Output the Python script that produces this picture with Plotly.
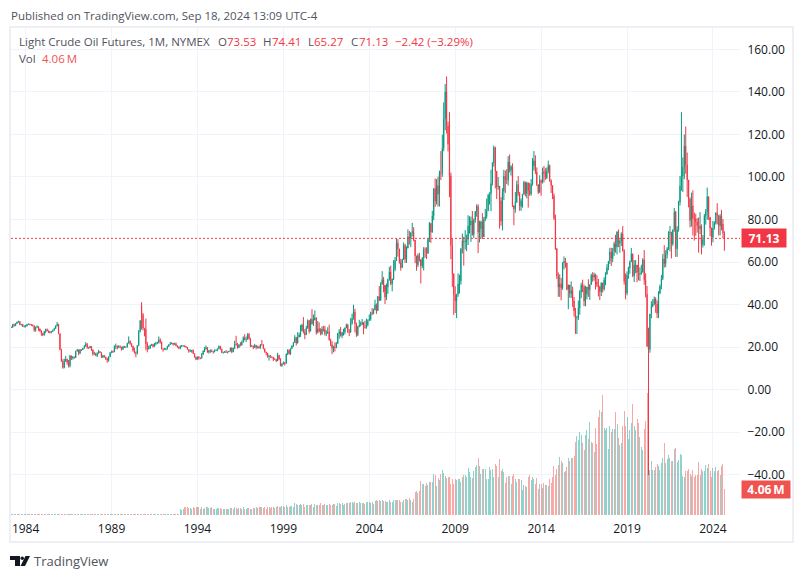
import plotly.graph_objects as go

# monthly bars, Mar 1983 to Sep 2024, one row per year
open_ = [
    29.3, 29.3, 30.6, 30.0, 31.0, 31.7, 32.0, 30.5, 30.6, 29.6,
    29.7, 29.9, 30.6, 30.8, 30.6, 30.4, 30.0, 27.9, 29.3, 29.6, 28.6, 27.6,
    26.4, 25.6, 27.3, 28.3, 27.6, 27.3, 26.8, 27.3, 27.9, 28.7, 30.0, 30.7,
    26.3, 18.8, 13.3, 10.4, 13.3, 14.3, 12.8, 11.2, 15.9, 14.8, 15.3, 15.0,
    18.0, 18.7, 17.0, 18.8, 18.7, 19.4, 20.3, 21.3, 19.7, 19.6, 20.3, 18.7,
    16.7, 16.9, 16.0, 17.0, 17.9, 17.4, 15.2, 16.0, 15.2, 14.5, 13.9, 15.4,
    17.4, 17.9, 17.7, 20.3, 20.4, 19.8, 20.3, 19.9, 18.9, 20.2, 19.9, 20.0,
    21.8, 22.7, 21.6, 20.4, 18.4, 17.4, 17.1, 20.7, 27.3, 39.5, 35.2, 28.9,
    28.4, 21.5, 19.2, 19.6, 20.8, 21.2, 20.2, 21.4, 21.7, 22.2, 23.4, 22.4,
    19.1, 18.9, 19.0, 19.2, 20.3, 21.1, 21.6, 21.9, 21.3, 21.6, 20.6, 19.9,
    19.5, 20.3, 20.5, 20.5, 20.3, 20.0, 18.9, 17.9, 18.0, 18.5, 16.9, 15.3,
    14.2, 15.2, 14.8, 14.7, 16.4, 18.2, 19.1, 19.7, 17.6, 18.4, 17.9, 18.1,
    17.8, 18.4, 18.5, 19.2, 20.4, 18.9, 17.4, 17.6, 17.8, 17.5, 17.6, 18.0,
    19.6, 17.7, 19.5, 21.5, 21.2, 19.8, 20.9, 20.8, 22.3, 24.4, 23.4, 23.6,
    25.9, 24.1, 20.3, 20.4, 19.7, 20.9, 19.8, 20.2, 19.6, 21.2, 21.1, 19.2,
    17.6, 17.2, 15.4, 15.6, 15.4, 15.2, 14.2, 14.2, 13.4, 16.1, 14.4, 11.2,
    12.1, 12.7, 12.3, 16.8, 18.7, 16.8, 19.3, 20.5, 22.1, 24.5, 21.8, 24.6,
    25.6, 27.6, 30.4, 26.9, 25.7, 29.0, 32.5, 27.4, 33.1, 30.8, 32.7, 33.8,
    26.8, 28.7, 27.4, 26.3, 28.5, 28.4, 26.3, 26.4, 27.2, 23.4, 21.2, 19.4,
    19.8, 19.5, 21.7, 26.3, 27.3, 25.3, 26.9, 27.0, 29.0, 30.5, 27.2, 26.9,
    31.2, 33.5, 36.6, 31.0, 25.8, 29.6, 30.2, 30.5, 31.6, 29.2, 29.1, 30.4,
    32.5, 33.1, 36.2, 35.8, 37.4, 39.9, 37.1, 43.8, 42.1, 49.6, 51.8, 49.1,
    43.5, 48.2, 51.8, 55.4, 49.7, 52.0, 56.5, 60.6, 68.9, 66.2, 59.8, 57.3,
    61.0, 67.9, 61.4, 66.6, 71.9, 71.3, 73.9, 74.4, 70.3, 62.9, 58.7, 63.1,
    61.1, 58.1, 61.8, 65.9, 65.8, 64.0, 70.7, 78.2, 74.0, 81.7, 94.5, 88.7,
    96.0, 91.8, 101.8, 101.6, 113.5, 127.4, 140.0, 124.1, 115.5, 100.6, 67.8, 54.4,
    44.6, 41.7, 44.8, 49.7, 51.1, 66.3, 69.9, 69.5, 70.0, 70.6, 77.0, 77.3,
    79.4, 72.9, 79.7, 83.8, 86.2, 74.0, 75.6, 79.0, 71.9, 80.0, 81.4, 84.1,
    91.4, 92.2, 97.0, 106.7, 113.9, 102.7, 95.4, 95.7, 88.8, 79.2, 93.2, 100.4,
    98.8, 98.5, 107.1, 103.0, 104.9, 86.5, 85.0, 88.1, 96.5, 92.2, 86.2, 88.9,
    91.8, 97.5, 92.1, 97.2, 93.5, 92.0, 96.6, 105.0, 107.7, 102.3, 96.4, 92.7,
    98.4, 97.5, 102.6, 101.6, 99.7, 102.7, 105.4, 98.2, 96.0, 91.2, 80.5, 66.2,
    53.3, 48.2, 49.8, 47.6, 59.6, 60.3, 59.5, 47.1, 49.2, 45.1, 46.6, 41.7,
    37.0, 33.6, 33.8, 38.3, 45.9, 49.1, 48.3, 41.6, 44.7, 48.2, 46.9, 49.4,
    53.7, 52.8, 54.0, 50.6, 49.3, 48.3, 46.0, 50.2, 47.2, 51.7, 54.4, 57.4,
    60.4, 64.7, 61.6, 64.9, 68.6, 67.0, 74.1, 68.8, 69.8, 73.3, 65.3, 50.9,
    45.4, 53.8, 57.2, 60.1, 63.9, 53.5, 58.5, 58.6, 55.1, 54.1, 54.2, 55.2,
    61.1, 51.6, 44.8, 20.5, 18.8, 35.5, 39.3, 40.3, 42.6, 40.2, 35.8, 45.3,
    48.5, 52.2, 61.5, 59.2, 63.6, 66.3, 73.5, 74.0, 68.5, 75.0, 83.6, 66.2,
    75.2, 88.2, 95.7, 100.3, 104.7, 114.7, 105.8, 98.6, 89.6, 79.5, 86.5, 80.6,
    80.3, 78.9, 77.1, 75.7, 76.8, 68.1, 70.6, 81.8, 83.6, 90.8, 81.0, 76.0,
    71.65, 75.85, 78.26, 83.17, 81.93, 76.99, 81.54, 77.91, 73.53,
]
high = [
    29.6, 30.9, 31.0, 31.2, 32.0, 32.4, 32.2, 30.9, 30.9, 30.3,
    30.4, 30.9, 31.1, 31.0, 30.8, 30.6, 30.1, 29.6, 30.1, 29.8, 28.7, 27.9,
    26.7, 27.6, 28.6, 28.7, 27.8, 27.6, 27.5, 28.2, 29.1, 30.2, 31.8, 30.9,
    26.4, 19.2, 14.3, 14.5, 15.8, 14.5, 13.9, 16.2, 15.9, 15.7, 15.6, 18.2,
    19.1, 18.8, 19.0, 18.9, 19.6, 20.9, 22.3, 21.9, 20.1, 20.6, 20.4, 18.9,
    17.8, 17.3, 17.5, 18.7, 18.0, 17.4, 16.3, 16.1, 15.5, 15.0, 15.6, 17.5,
    18.3, 18.4, 20.8, 21.6, 20.8, 20.8, 20.7, 20.1, 20.5, 20.6, 20.3, 22.0,
    25.0, 23.1, 21.8, 20.6, 19.7, 17.9, 20.9, 28.0, 32.7, 41.1, 36.0, 29.0,
    33.4, 22.4, 20.6, 21.1, 21.5, 21.5, 21.9, 22.4, 22.5, 25.0, 24.1, 22.6,
    19.4, 19.6, 19.4, 20.6, 21.3, 22.4, 22.2, 21.9, 22.0, 22.1, 20.9, 20.3,
    20.8, 21.0, 20.9, 20.8, 20.5, 20.0, 18.9, 18.9, 18.6, 18.9, 17.0, 15.6,
    15.5, 15.8, 15.1, 17.2, 18.4, 20.0, 20.7, 20.0, 18.5, 18.9, 18.9, 18.2,
    18.9, 18.9, 19.3, 20.7, 20.5, 19.3, 17.7, 18.1, 18.6, 17.9, 18.2, 19.7,
    19.9, 19.7, 23.0, 25.3, 21.9, 21.4, 22.3, 23.0, 25.0, 26.0, 24.9, 26.5,
    26.6, 24.3, 21.0, 20.7, 21.5, 20.9, 20.4, 20.7, 21.4, 23.3, 21.3, 19.3,
    17.8, 17.2, 16.3, 16.2, 15.6, 15.3, 14.8, 14.3, 17.3, 16.3, 14.7, 12.3,
    13.2, 12.9, 16.9, 18.9, 18.7, 19.3, 20.8, 22.4, 25.6, 24.8, 27.0, 26.7,
    30.3, 31.0, 34.1, 28.4, 30.0, 33.0, 32.6, 33.4, 37.8, 35.3, 37.2, 33.9,
    32.2, 31.6, 28.8, 29.7, 30.0, 29.9, 27.9, 29.3, 30.5, 23.9, 22.8, 20.6,
    22.2, 22.4, 26.7, 28.4, 29.4, 27.0, 28.6, 29.2, 31.0, 30.9, 28.5, 33.7,
    35.7, 39.9, 38.0, 31.5, 30.0, 32.8, 32.0, 33.2, 31.7, 32.4, 33.4, 33.0,
    35.3, 36.6, 38.4, 38.0, 42.3, 40.5, 44.0, 48.7, 50.5, 55.7, 53.0, 46.5,
    49.9, 52.1, 57.7, 58.3, 52.2, 60.9, 62.3, 70.8, 70.8, 66.2, 61.5, 61.6,
    69.2, 68.5, 67.4, 75.4, 74.6, 73.9, 78.4, 76.4, 70.0, 62.5, 64.0, 64.3,
    58.5, 62.3, 67.0, 66.9, 66.9, 71.0, 78.8, 78.3, 84.1, 94.7, 99.3, 99.0,
    100.1, 103.0, 112.2, 119.9, 135.1, 143.7, 147.3, 126.0, 130.5, 102.1, 71.0, 54.7,
    48.6, 45.0, 54.7, 54.0, 66.4, 73.4, 71.9, 75.0, 72.9, 82.0, 81.5, 81.4,
    84.0, 80.5, 83.9, 87.1, 87.2, 79.4, 79.4, 83.0, 81.2, 85.0, 89.8, 92.1,
    92.8, 103.4, 107.0, 114.8, 114.2, 102.9, 100.0, 90.3, 90.5, 94.7, 103.4, 103.0,
    103.7, 109.8, 110.6, 105.5, 106.4, 86.1, 92.9, 98.3, 100.4, 92.9, 89.9, 92.1,
    98.2, 97.8, 97.8, 97.4, 97.2, 99.0, 108.9, 112.2, 110.2, 104.5, 95.5, 100.8,
    98.8, 104.4, 105.2, 104.1, 104.5, 107.7, 105.9, 98.9, 95.9, 92.2, 82.3, 66.6,
    55.1, 54.2, 52.5, 59.9, 62.6, 61.9, 59.7, 49.4, 48.4, 50.9, 48.4, 43.5,
    38.4, 34.7, 41.9, 46.8, 50.2, 51.7, 49.4, 48.8, 48.4, 51.9, 49.4, 54.5,
    55.2, 55.0, 54.5, 53.8, 52.0, 48.9, 50.4, 50.2, 52.9, 55.2, 59.0, 60.5,
    66.7, 66.7, 66.6, 69.6, 72.8, 74.5, 75.3, 70.7, 74.0, 76.9, 66.1, 54.6,
    55.6, 57.8, 60.7, 66.6, 63.9, 60.9, 60.9, 57.5, 63.4, 57.5, 58.7, 61.8,
    65.6, 54.7, 48.7, 29.1, 35.6, 41.6, 42.5, 43.8, 43.4, 41.9, 46.3, 49.4,
    53.9, 63.8, 67.9, 65.5, 67.0, 74.5, 76.9, 74.2, 75.4, 85.4, 84.0, 76.8,
    88.8, 100.5, 130.5, 109.2, 120.0, 123.7, 111.5, 97.7, 90.4, 92.6, 93.7, 83.3,
    82.7, 80.6, 81.0, 83.5, 77.7, 72.7, 82.6, 84.9, 95.0, 90.8, 79.7, 76.2,
    79.3, 79.1, 83.3, 87.7, 82.0, 82.6, 84.5, 80.2, 74.41,
]
low = [
    28.9, 29.0, 29.6, 29.9, 30.8, 31.4, 30.3, 30.1, 29.5, 29.2,
    29.2, 29.7, 30.4, 30.2, 29.9, 29.7, 27.2, 27.2, 29.0, 27.6, 27.1, 25.3,
    25.1, 25.5, 26.5, 27.3, 26.6, 26.4, 26.5, 27.1, 27.7, 28.6, 29.7, 26.0,
    18.5, 13.0, 9.8, 10.0, 13.0, 11.7, 10.4, 10.4, 13.9, 14.1, 14.5, 14.9,
    17.9, 16.2, 16.7, 18.1, 18.6, 19.2, 20.3, 19.2, 19.1, 19.5, 18.2, 15.9,
    16.3, 15.7, 15.3, 16.8, 17.2, 14.9, 14.8, 15.1, 13.9, 12.6, 13.1, 15.2,
    17.1, 17.2, 17.6, 19.0, 18.9, 19.5, 19.4, 18.3, 18.8, 19.6, 19.6, 19.8,
    21.6, 21.1, 20.0, 17.8, 16.9, 15.2, 16.5, 20.4, 26.9, 28.2, 27.8, 25.0,
    18.5, 17.5, 18.8, 19.1, 20.5, 19.8, 20.1, 20.8, 21.4, 21.7, 21.6, 18.9,
    17.8, 18.6, 18.4, 18.8, 20.0, 21.0, 21.3, 20.6, 21.0, 20.4, 19.8, 19.0,
    18.9, 20.0, 20.2, 19.9, 19.7, 18.8, 17.3, 17.7, 17.3, 16.8, 15.0, 13.8,
    14.0, 14.1, 14.2, 14.6, 16.3, 17.6, 18.8, 17.3, 16.9, 17.2, 17.6, 16.9,
    17.5, 18.2, 18.0, 19.1, 18.7, 17.2, 16.9, 17.2, 17.2, 17.0, 17.6, 18.0,
    17.1, 17.6, 19.0, 20.7, 19.2, 19.5, 20.3, 20.8, 22.1, 23.1, 22.3, 23.6,
    23.5, 19.9, 20.0, 19.0, 19.7, 18.9, 19.3, 19.2, 19.2, 20.7, 18.9, 17.4,
    16.1, 15.0, 13.6, 15.0, 14.7, 13.4, 13.9, 13.0, 13.4, 13.9, 10.9, 10.7,
    11.7, 11.3, 12.1, 16.2, 16.5, 16.3, 19.0, 20.1, 22.0, 20.7, 21.7, 24.6,
    24.8, 27.4, 26.4, 23.7, 25.7, 28.6, 26.3, 27.4, 30.6, 29.9, 32.5, 25.8,
    26.4, 26.9, 25.5, 25.7, 27.3, 25.4, 25.1, 26.3, 23.0, 20.4, 16.7, 17.5,
    17.9, 19.5, 21.5, 23.9, 24.9, 24.2, 25.4, 25.9, 28.8, 26.6, 25.1, 26.8,
    30.5, 32.9, 26.9, 24.8, 25.1, 29.3, 29.7, 30.6, 26.0, 28.7, 28.6, 29.7,
    32.2, 32.4, 35.0, 35.4, 37.4, 35.6, 36.9, 41.6, 41.7, 49.3, 45.7, 40.2,
    42.1, 45.0, 51.2, 49.1, 46.2, 51.5, 55.7, 60.5, 62.5, 59.2, 55.9, 57.3,
    61.0, 59.5, 59.6, 66.4, 68.2, 67.0, 72.0, 69.7, 59.5, 55.9, 57.6, 60.2,
    49.9, 57.1, 56.0, 62.0, 61.4, 64.0, 69.4, 69.0, 73.8, 79.6, 85.9, 87.0,
    86.1, 86.1, 98.6, 100.1, 112.1, 122.0, 120.4, 112.0, 90.5, 61.3, 48.3, 35.1,
    36.0, 33.6, 43.6, 45.2, 49.3, 64.0, 58.3, 65.9, 65.1, 68.0, 73.4, 69.5,
    72.4, 71.2, 78.5, 81.3, 64.2, 69.2, 71.0, 70.8, 72.6, 79.2, 80.4, 84.0,
    87.0, 83.9, 96.0, 104.9, 94.6, 89.6, 94.0, 75.7, 77.1, 74.9, 89.2, 92.5,
    96.7, 96.0, 102.1, 100.7, 85.9, 77.3, 83.2, 87.8, 91.1, 84.1, 84.1, 85.6,
    91.7, 90.9, 90.0, 85.6, 91.1, 91.2, 95.9, 103.1, 101.4, 95.8, 92.0, 92.6,
    91.2, 96.9, 97.4, 98.6, 99.0, 101.7, 97.7, 92.5, 89.6, 79.8, 65.7, 52.0,
    43.6, 43.6, 42.0, 46.9, 56.5, 57.3, 46.7, 37.8, 43.2, 43.0, 38.9, 34.3,
    26.2, 26.1, 32.7, 35.2, 43.0, 45.8, 39.2, 39.2, 42.5, 43.6, 42.2, 49.9,
    50.7, 51.2, 47.0, 48.2, 43.8, 42.1, 44.0, 45.6, 46.5, 49.1, 54.0, 56.1,
    59.1, 58.1, 59.9, 62.9, 64.4, 63.6, 67.0, 64.4, 67.5, 64.9, 49.4, 42.4,
    44.4, 52.1, 54.5, 60.1, 52.9, 50.6, 54.7, 50.5, 51.4, 51.0, 54.8, 55.0,
    49.3, 43.3, 20.0, -40.3, 17.3, 33.5, 38.7, 39.6, 36.1, 33.6, 33.6, 44.9,
    47.2, 51.5, 57.3, 57.6, 61.6, 65.7, 65.0, 61.7, 67.6, 74.2, 62.4, 62.4,
    74.3, 86.6, 93.5, 92.9, 99.0, 101.5, 90.6, 85.7, 76.3, 76.7, 72.5, 70.1,
    72.3, 73.8, 64.4, 73.1, 63.6, 66.8, 67.7, 77.6, 79.9, 79.8, 72.2, 67.7,
    69.3, 75.2, 77.6, 77.7, 72.5, 72.5, 74.9, 71.2, 65.27,
]
close = [
    29.3, 30.6, 30.0, 31.0, 31.7, 32.0, 30.5, 30.6, 29.6, 29.7,
    29.9, 30.6, 30.8, 30.6, 30.4, 30.0, 27.9, 29.3, 29.6, 28.6, 27.6, 26.4,
    25.6, 27.3, 28.3, 27.6, 27.3, 26.8, 27.3, 27.9, 28.7, 30.0, 30.7, 26.3,
    18.8, 13.3, 10.4, 13.3, 14.3, 12.8, 11.2, 15.9, 14.8, 15.3, 15.0, 18.0,
    18.7, 17.0, 18.8, 18.7, 19.4, 20.3, 21.3, 19.7, 19.6, 20.3, 18.7, 16.7,
    16.9, 16.0, 17.0, 17.9, 17.4, 15.2, 16.0, 15.2, 14.5, 13.9, 15.4, 17.4,
    17.9, 17.7, 20.3, 20.4, 19.8, 20.3, 19.9, 18.9, 20.2, 19.9, 20.0, 21.8,
    22.7, 21.6, 20.4, 18.4, 17.4, 17.1, 20.7, 27.3, 32.4, 35.2, 28.9, 28.4,
    21.5, 19.2, 19.6, 20.8, 21.2, 20.2, 21.4, 21.7, 22.2, 23.4, 22.4, 19.1,
    18.9, 19.0, 19.2, 20.3, 21.1, 21.6, 21.9, 21.3, 21.6, 20.6, 19.9, 19.5,
    20.3, 20.5, 20.5, 20.3, 20.0, 18.9, 17.9, 18.0, 18.5, 16.9, 15.3, 14.2,
    15.2, 14.8, 14.7, 16.4, 18.2, 19.1, 19.7, 17.6, 18.4, 17.9, 18.1, 17.8,
    18.4, 18.5, 19.2, 20.4, 18.9, 17.4, 17.6, 17.8, 17.5, 17.6, 18.0, 19.6,
    17.7, 19.5, 21.5, 21.2, 19.8, 20.9, 20.8, 22.3, 24.4, 23.4, 23.6, 25.9,
    24.1, 20.3, 20.4, 19.7, 20.9, 19.8, 20.2, 19.6, 21.2, 21.1, 19.2, 17.6,
    17.2, 15.4, 15.6, 15.4, 15.2, 14.2, 14.2, 13.4, 16.1, 14.4, 11.2, 12.1,
    12.7, 12.3, 16.8, 18.7, 16.8, 19.3, 20.5, 22.1, 24.5, 21.8, 24.6, 25.6,
    27.6, 30.4, 26.9, 25.7, 29.0, 32.5, 27.4, 33.1, 30.8, 32.7, 33.8, 26.8,
    28.7, 27.4, 26.3, 28.5, 28.4, 26.3, 26.4, 27.2, 23.4, 21.2, 19.4, 19.8,
    19.5, 21.7, 26.3, 27.3, 25.3, 26.9, 27.0, 29.0, 30.5, 27.2, 26.9, 31.2,
    33.5, 36.6, 31.0, 25.8, 29.6, 30.2, 30.5, 31.6, 29.2, 29.1, 30.4, 32.5,
    33.1, 36.2, 35.8, 37.4, 39.9, 37.1, 43.8, 42.1, 49.6, 51.8, 49.1, 43.5,
    48.2, 51.8, 55.4, 49.7, 52.0, 56.5, 60.6, 68.9, 66.2, 59.8, 57.3, 61.0,
    67.9, 61.4, 66.6, 71.9, 71.3, 73.9, 74.4, 70.3, 62.9, 58.7, 63.1, 61.1,
    58.1, 61.8, 65.9, 65.8, 64.0, 70.7, 78.2, 74.0, 81.7, 94.5, 88.7, 96.0,
    91.8, 101.8, 101.6, 113.5, 127.4, 140.0, 124.1, 115.5, 100.6, 67.8, 54.4, 44.6,
    41.7, 44.8, 49.7, 51.1, 66.3, 69.9, 69.5, 70.0, 70.6, 77.0, 77.3, 79.4,
    72.9, 79.7, 83.8, 86.2, 74.0, 75.6, 79.0, 71.9, 80.0, 81.4, 84.1, 91.4,
    92.2, 97.0, 106.7, 113.9, 102.7, 95.4, 95.7, 88.8, 79.2, 93.2, 100.4, 98.8,
    98.5, 107.1, 103.0, 104.9, 86.5, 85.0, 88.1, 96.5, 92.2, 86.2, 88.9, 91.8,
    97.5, 92.1, 97.2, 93.5, 92.0, 96.6, 105.0, 107.7, 102.3, 96.4, 92.7, 98.4,
    97.5, 102.6, 101.6, 99.7, 102.7, 105.4, 98.2, 96.0, 91.2, 80.5, 66.2, 53.3,
    48.2, 49.8, 47.6, 59.6, 60.3, 59.5, 47.1, 49.2, 45.1, 46.6, 41.7, 37.0,
    33.6, 33.8, 38.3, 45.9, 49.1, 48.3, 41.6, 44.7, 48.2, 46.9, 49.4, 53.7,
    52.8, 54.0, 50.6, 49.3, 48.3, 46.0, 50.2, 47.2, 51.7, 54.4, 57.4, 60.4,
    64.7, 61.6, 64.9, 68.6, 67.0, 74.1, 68.8, 69.8, 73.3, 65.3, 50.9, 45.4,
    53.8, 57.2, 60.1, 63.9, 53.5, 58.5, 58.6, 55.1, 54.1, 54.2, 55.2, 61.1,
    51.6, 44.8, 20.5, 18.8, 35.5, 39.3, 40.3, 42.6, 40.2, 35.8, 45.3, 48.5,
    52.2, 61.5, 59.2, 63.6, 66.3, 73.5, 74.0, 68.5, 75.0, 83.6, 66.2, 75.2,
    88.2, 95.7, 100.3, 104.7, 114.7, 105.8, 98.6, 89.6, 79.5, 86.5, 80.6, 80.3,
    78.9, 77.1, 75.7, 76.8, 68.1, 70.6, 81.8, 83.6, 90.8, 81.0, 76.0, 71.65,
    75.85, 78.26, 83.17, 81.93, 76.99, 81.54, 77.91, 73.55, 71.13,
]
# volume in millions
volume = [
    0.13, 0.12, 0.14, 0.12, 0.13, 0.14, 0.13, 0.12, 0.13, 0.12,
    0.13, 0.14, 0.12, 0.13, 0.13, 0.12, 0.14, 0.13, 0.12, 0.13, 0.13, 0.14,
    0.12, 0.13, 0.14, 0.13, 0.12, 0.13, 0.14, 0.13, 0.12, 0.14, 0.13, 0.13,
    0.14, 0.13, 0.12, 0.13, 0.14, 0.12, 0.13, 0.14, 0.13, 0.12, 0.13, 0.14,
    0.13, 0.12, 0.14, 0.13, 0.13, 0.12, 0.14, 0.13, 0.12, 0.13, 0.14, 0.13,
    0.12, 0.14, 0.13, 0.12, 0.13, 0.14, 0.13, 0.12, 0.14, 0.13, 0.12, 0.13,
    0.14, 0.12, 0.13, 0.14, 0.13, 0.12, 0.13, 0.14, 0.13, 0.12, 0.14, 0.13,
    0.12, 0.13, 0.14, 0.13, 0.12, 0.14, 0.13, 0.13, 0.12, 0.14, 0.13, 0.12,
    0.14, 0.13, 0.12, 0.13, 0.14, 0.13, 0.12, 0.14, 0.13, 0.12, 0.13, 0.14,
    0.13, 0.12, 0.14, 0.13, 0.12, 0.13, 0.14, 0.12, 0.13, 0.14, 0.13, 0.12,
    0.9, 0.8, 0.9, 1.2, 1.2, 1.2, 1.1, 1.1, 1.0, 1.2, 1.1, 1.3,
    1.2, 1.2, 1.0, 1.2, 1.0, 1.1, 1.2, 1.3, 1.1, 1.1, 1.2, 1.0,
    1.0, 1.0, 1.1, 1.1, 1.1, 0.9, 0.9, 0.9, 1.0, 1.0, 0.9, 1.1,
    1.1, 1.0, 1.2, 1.1, 1.0, 1.1, 1.1, 1.0, 1.2, 1.0, 1.0, 1.1,
    1.1, 1.0, 0.9, 1.1, 1.1, 1.2, 1.1, 1.2, 1.2, 1.2, 1.1, 1.2,
    1.0, 1.2, 1.3, 1.1, 1.2, 1.3, 1.1, 1.2, 1.4, 1.2, 1.3, 1.4,
    1.4, 1.3, 1.5, 1.2, 1.3, 1.4, 1.4, 1.3, 1.8, 1.7, 1.5, 1.6,
    1.7, 1.5, 1.7, 1.3, 1.6, 1.6, 1.5, 1.6, 1.7, 1.3, 1.7, 1.6,
    1.5, 1.5, 1.8, 1.6, 1.5, 1.7, 1.5, 1.5, 1.7, 1.6, 1.5, 1.7,
    1.7, 1.4, 1.9, 1.8, 1.7, 1.9, 1.6, 1.7, 1.9, 1.8, 1.9, 2.1,
    2.0, 1.9, 2.1, 1.8, 1.8, 2.1, 1.9, 1.8, 1.8, 1.7, 2.0, 2.1,
    2.0, 1.9, 2.0, 1.7, 2.2, 2.3, 2.2, 2.3, 2.2, 2.3, 2.2, 2.2,
    2.0, 2.0, 2.3, 2.1, 2.1, 2.3, 2.4, 2.4, 2.3, 2.4, 2.0, 2.0,
    2.4, 2.5, 2.5, 2.4, 2.6, 2.3, 2.1, 2.5, 3.6, 3.7, 3.4, 3.7,
    5.3, 4.9, 4.9, 4.5, 5.0, 4.7, 5.1, 5.2, 5.2, 6.35, 6.25, 4.5,
    5.8, 5.4, 6.4, 7.0, 6.6, 6.1, 5.8, 6.0, 6.0, 4.8, 5.6, 4.8,
    5.6, 5.4, 5.6, 5.6, 5.2, 6.0, 6.25, 6.25, 6.0, 7.3, 6.7, 6.0,
    5.8, 6.8, 7.5, 7.8, 8.9, 7.7, 6.35, 7.2, 7.2, 7.2, 5.6, 5.6,
    7.5, 7.0, 7.2, 6.0, 8.0, 7.6, 5.9, 8.8, 6.8, 7.2, 6.7, 5.0,
    5.9, 6.1, 6.1, 4.8, 6.1, 6.4, 5.6, 5.2, 5.6, 5.6, 5.5, 3.9,
    4.7, 4.5, 4.4, 5.9, 6.25, 5.4, 5.9, 5.7, 4.9, 5.8, 4.0, 4.8,
    4.85, 4.2, 5.0, 4.7, 4.7, 4.5, 5.6, 5.0, 5.9, 7.65, 6.25, 7.2,
    7.8, 9.1, 8.4, 8.1, 6.7, 6.9, 7.5, 8.9, 8.4, 8.9, 8.9, 9.2,
    11.4, 12.3, 11.7, 13.0, 12.5, 11.25, 10.2, 12.5, 13.3, 11.9, 14.5, 11.4,
    11.25, 9.8, 13.6, 11.1, 15.3, 16.4, 16.1, 18.75, 13.6, 13.3, 13.6, 10.3,
    13.9, 13.0, 13.4, 13.4, 16.1, 14.2, 12.0, 11.0, 11.25, 13.9, 16.2, 13.9,
    15.3, 11.9, 13.3, 14.4, 17.3, 13.9, 13.3, 15.0, 14.4, 12.2, 10.6, 10.2,
    13.4, 14.7, 19.1, 16.4, 7.0, 8.4, 7.0, 7.0, 7.5, 8.0, 7.7, 7.0,
    8.1, 8.9, 11.25, 8.1, 8.75, 9.4, 8.9, 8.4, 8.4, 10.3, 10.5, 8.3,
    8.6, 9.5, 9.4, 6.1, 5.9, 6.9, 6.9, 7.2, 6.4, 6.1, 7.0, 5.9,
    6.25, 6.25, 8.3, 6.25, 7.2, 6.8, 6.8, 7.8, 7.3, 8.0, 6.9, 5.9,
    7.3, 6.9, 7.5, 6.9, 7.0, 6.25, 7.7, 8.0, 4.06,
]

assert len(open_) == len(high) == len(low) == len(close) == len(volume) == 499

tick_bars = [10, 70, 130, 190, 250, 310, 370, 430, 490]
tick_years = ["1984", "1989", "1994", "1999", "2004", "2009", "2014", "2019", "2024"]
price_ticks = [160, 140, 120, 100, 80, 60, 40, 20, 0, -20, -40]
price_labels = ["160.00", "140.00", "120.00", "100.00", "80.00", "60.00", "40.00", "20.00", "0.00", "\u221220.00", "\u221240.00"]
last_close = 71.13
last_volume = 4.06

UP = "#089981"
DOWN = "#F23645"
GRID = "#f0f3fa"
TEXT = "#131722"
FONT = "Open Sans"

# plot box in screenshot pixels; the page body adds 8px on the top and left
LEFT, RIGHT, TOP, BOTTOM = 11, 740, 28, 516
BODY = 8


def px(x):
    return (x - LEFT) / (RIGHT - LEFT)


def py(y):
    return (BOTTOM - y) / (BOTTOM - TOP)


bars = list(range(len(close)))
vol_colors = [
    "rgba(38,166,154,0.5)" if c >= o else "rgba(239,83,80,0.5)"
    for o, c in zip(open_, close)
]

fig = go.Figure()
fig.add_trace(go.Bar(
    x=bars, y=volume, width=0.7, marker=dict(color=vol_colors, line_width=0),
    yaxis="y", showlegend=False, hoverinfo="skip",
))
fig.add_trace(go.Candlestick(
    x=bars, open=open_, high=high, low=low, close=close, yaxis="y2", showlegend=False,
    increasing=dict(line=dict(color=UP, width=1), fillcolor=UP),
    decreasing=dict(line=dict(color=DOWN, width=1), fillcolor=DOWN),
    whiskerwidth=0,
))


def label(x, y, text, color=TEXT, size=12, font=FONT, **kw):
    fig.add_annotation(
        xref="paper", yref="paper", x=px(x), y=py(y), text=text, showarrow=False,
        xanchor="left", yanchor="middle", font=dict(family=font, size=size, color=color),
        align="left", borderpad=0, **kw,
    )


label(10, 15, "Published on TradingView.com, Sep 18, 2024 13:09 UTC-4", "#50535e", 11.5)
label(18, 42, "Light Crude Oil Futures, 1M, NYMEX", "#50535e", 11.5)
header_x = [217, 226, 262, 271, 307, 313, 350, 358, 394]
header_text = ["O", "73.53", "H", "74.41", "L", "65.27", "C", "71.13", "\u22122.42 (\u22123.29%)"]
for x, t in zip(header_x, header_text):
    label(x, 42, t, "#50535e" if len(t) == 1 else DOWN, 11.5)
label(18, 59, "Vol", "#50535e", 11.5)
label(41, 59, "4.06\u2009M", "#ef5350", 11.5)
label(33, 561, "TradingView", "#50535e", 13)

fig.add_annotation(
    xref="paper", yref="y2", x=px(741), y=last_close, text=f"<b>{last_close:.2f}</b>",
    showarrow=False, xanchor="left", yanchor="middle", bgcolor=DOWN, width=42, height=16,
    font=dict(family=FONT, size=12, color="white"),
)
fig.add_annotation(
    xref="paper", yref="y", x=px(741), y=last_volume, text=f"<b>{last_volume:.2f}\u2009M</b>",
    showarrow=False, xanchor="left", yanchor="middle", bgcolor="#ef5350", width=46, height=15,
    font=dict(family=FONT, size=12, color="white"),
)

shapes = [
    # frame round the chart
    dict(type="rect", xref="paper", yref="paper", x0=px(10), x1=px(793), y0=py(27), y1=py(542),
         line=dict(color="#eeeff5", width=2), layer="below"),
    # last price line
    dict(type="line", xref="paper", yref="y2", x0=0, x1=1, y0=last_close, y1=last_close,
         line=dict(color=DOWN, width=1, dash="2px,2px")),
    # logo
    dict(type="path", xref="paper", yref="paper", fillcolor=TEXT, line_width=0,
         path=f"M {px(10)} {py(556)} L {px(20)} {py(556)} L {px(20)} {py(566)} L {px(15)} {py(566)} "
              f"L {px(15)} {py(560)} L {px(10)} {py(560)} Z"),
    dict(type="circle", xref="paper", yref="paper", fillcolor=TEXT, line_width=0,
         x0=px(20.5), x1=px(24), y0=py(560), y1=py(556.5)),
    dict(type="path", xref="paper", yref="paper", fillcolor=TEXT, line_width=0,
         path=f"M {px(25.5)} {py(556)} L {px(30)} {py(556)} L {px(25)} {py(566)} L {px(20.5)} {py(566)} Z"),
]

fig.update_layout(
    width=804 - BODY, height=578 - BODY, autosize=False,
    margin=dict(l=LEFT - BODY, r=804 - RIGHT, t=TOP - BODY, b=578 - BOTTOM, pad=0),
    paper_bgcolor="white", plot_bgcolor="white", showlegend=False,
    bargap=0, boxgap=0.75, shapes=shapes,
    font=dict(family=FONT, size=12, color=TEXT),
    xaxis=dict(
        range=[-0.2, 508.9], rangeslider_visible=False, tickmode="array",
        tickvals=tick_bars, ticktext=tick_years, showgrid=True, gridcolor=GRID, gridwidth=1,
        ticks="outside", ticklen=2, tickcolor="white", showline=False, zeroline=False,
        tickfont=dict(family=FONT, size=12, color=TEXT),
    ),
    yaxis=dict(range=[-0.156, 76.1], visible=False),
    yaxis2=dict(
        range=[-59.5, 170.1], overlaying="y", side="right", tickmode="array",
        tickvals=price_ticks, ticktext=price_labels, showgrid=True, gridcolor=GRID, gridwidth=1,
        ticks="outside", ticklen=4, tickcolor="white", showline=False, zeroline=False,
        tickfont=dict(family=FONT, size=12, color=TEXT),
    ),
)

fig.write_html("out.html")
